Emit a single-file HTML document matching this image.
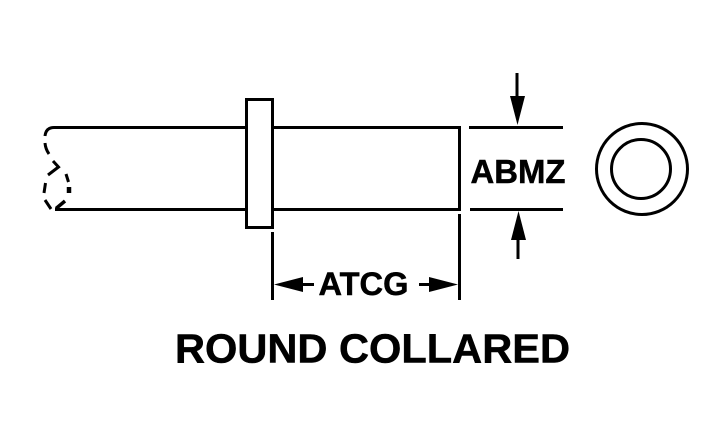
<!DOCTYPE html>
<html>
<head>
<meta charset="utf-8">
<style>
html,body{margin:0;padding:0;background:#fff}
svg{display:block}
text{font-family:"Liberation Sans",sans-serif;font-weight:bold;fill:#000;stroke:#000;stroke-width:.5}
</style>
</head>
<body>
<svg width="720" height="424" viewBox="0 0 720 424" xmlns="http://www.w3.org/2000/svg">
<rect width="720" height="424" fill="#fff"/>
<g fill="none" stroke="#000" stroke-width="3">
  <!-- shaft -->
  <path d="M45 136 Q46 127.500 54 127.500 H246"/>
  <path d="M273 127.500 H459.500 V209.500 H273"/>
  <path d="M55 209.500 H246"/>
  <!-- collar -->
  <rect x="246.500" y="99.500" width="26" height="128"/>
  <!-- break -->
  <path d="M45 143 Q45.500 149 49 154"/>
  <path d="M53 161 L58.500 167 L48 175"/>
  <path d="M66 174 L68.500 182"/>
  <path d="M69 187 V193" stroke-width="4.500"/>
  <path d="M45.500 183 L44 193"/>
  <path d="M45 200 L51 209"/>
  <path d="M65 201 L56 208.500" stroke-width="3.500"/>
  <!-- extension lines -->
  <path d="M272.500 232 V300"/>
  <path d="M459.500 214 V300"/>
  <path d="M469 127.500 H563"/>
  <path d="M470 209.500 H563"/>
  <!-- dim stems -->
  <path d="M517 73 V100"/>
  <path d="M518 235 V259"/>
  <path d="M300 284.500 H314"/>
  <path d="M419 284.500 H434"/>
  <!-- end view -->
  <circle cx="642" cy="169" r="45.500"/>
  <circle cx="641" cy="169" r="29.500"/>
</g>
<g fill="#000">
  <polygon points="510,96 525,96 517.500,125"/>
  <polygon points="511,240 526,240 518.500,211"/>
  <polygon points="274,284.500 303,277 303,292"/>
  <polygon points="458,284.500 429,277 429,292"/>
</g>
<text x="470.500" y="183" font-size="33.500" textLength="95" lengthAdjust="spacingAndGlyphs">ABMZ</text>
<text x="318.500" y="295" font-size="32.500" textLength="90" lengthAdjust="spacingAndGlyphs">ATCG</text>
<text x="175" y="362.500" font-size="40.500" textLength="395" lengthAdjust="spacingAndGlyphs">ROUND COLLARED</text>
</svg>
</body>
</html>
